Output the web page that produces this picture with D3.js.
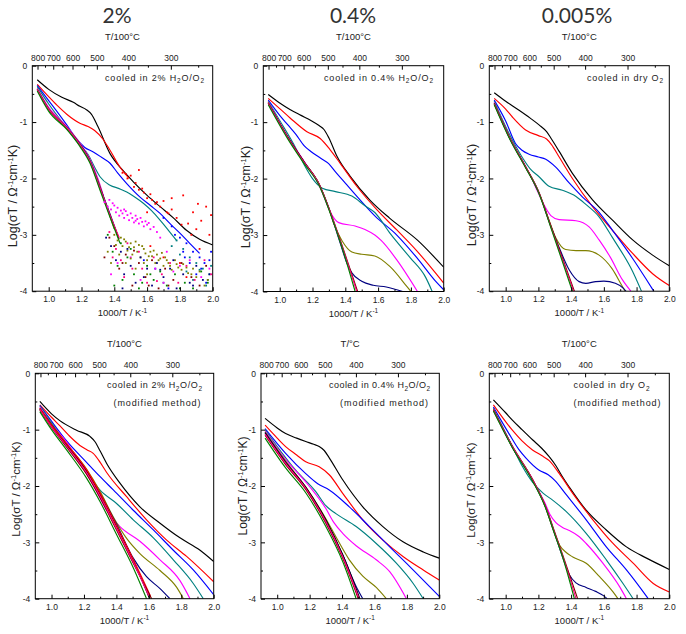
<!DOCTYPE html>
<html><head><meta charset="utf-8">
<script src="https://cdn.jsdelivr.net/npm/d3@7"></script>
<style>body{margin:0;background:#fff;} svg{display:block;font-family:"Liberation Sans",Arial,sans-serif;}</style>
</head><body><svg id="c" width="686" height="634"></svg>
<script>
// ---------- axes / ticks ----------
const X_DOMAIN = [0.9, 2.0];
const Y_DOMAIN = [-4, 0];
const X_TICKS = [1.0, 1.2, 1.4, 1.6, 1.8, 2.0];
const X_MINOR = [1.1, 1.3, 1.5, 1.7, 1.9];
const Y_TICKS = [0, -1, -2, -3, -4];
const Y_MINOR = [-0.5, -1.5, -2.5, -3.5];
const TEMP_TICKS = [800, 700, 600, 500, 400, 300];
const TEMP_MINOR = [750, 650, 550, 450, 350, 250];
const TITLES = ["2%", "0.4%", "0.005%"];
const TOP_LABELS = ["T/100°C", "T/100°C", "T/100°C", "T/100°C", "T/°C", "T/100°C"];
const GAS = ["2% H|2|O/O|2", "0.4% H|2|O/O|2", "dry O|2", "2% H|2|O/O|2", "0.4% H|2|O/O|2", "dry O|2"];

// ---------- panel 1 : cooled in 2% H2O/O2 ----------
const p1_black = [[0.93,-0.25],[1.0,-0.42],[1.08,-0.56],[1.15,-0.65],[1.19,-0.72],[1.23,-0.78],[1.26,-0.86],[1.3,-1.08],[1.374,-1.56],[1.45,-1.85],[1.516,-2.06],[1.6,-2.3],[1.679,-2.5],[1.76,-2.7],[1.84,-2.92],[1.92,-3.08],[2.0,-3.18]];
const p1_red = [[0.93,-0.33],[1.0,-0.55],[1.05,-0.70],[1.11,-0.86],[1.19,-1.02],[1.24,-1.08],[1.28,-1.15],[1.33,-1.3],[1.374,-1.5],[1.43,-1.78],[1.49,-2.0]];
const p1_blue = [[0.93,-0.35],[1.0,-0.62],[1.06,-0.85],[1.11,-1.05],[1.17,-1.30],[1.22,-1.45],[1.272,-1.53],[1.32,-1.62],[1.374,-1.73],[1.42,-1.9],[1.476,-2.09],[1.557,-2.33],[1.62,-2.48],[1.679,-2.62],[1.74,-2.8],[1.80,-2.97],[1.86,-3.15],[1.92,-3.33]];
const p1_teal = [[0.93,-0.37],[1.0,-0.68],[1.1,-1.07],[1.18,-1.38],[1.241,-1.58],[1.28,-1.8],[1.313,-1.97],[1.374,-2.12],[1.43,-2.18],[1.476,-2.24],[1.52,-2.32],[1.577,-2.44],[1.63,-2.58],[1.679,-2.74],[1.73,-2.92],[1.78,-3.10]];
const p1_magenta = [[0.93,-0.40],[1.0,-0.74],[1.11,-1.08],[1.19,-1.37],[1.252,-1.66],[1.3,-2.0],[1.333,-2.3]];
const p1_olive = [[0.93,-0.41],[1.0,-0.76],[1.11,-1.09],[1.19,-1.38],[1.252,-1.68],[1.313,-2.14],[1.36,-2.55],[1.40,-2.9]];
const p1_navy = [[0.93,-0.42],[1.0,-0.77],[1.11,-1.1],[1.19,-1.39],[1.252,-1.69],[1.313,-2.16],[1.374,-2.63],[1.42,-3.0]];
const p1_wine = [[0.93,-0.43],[1.0,-0.78],[1.11,-1.11],[1.19,-1.41],[1.252,-1.71],[1.313,-2.18],[1.374,-2.66],[1.43,-3.08]];
const p1_pink = [[0.93,-0.42],[1.0,-0.77],[1.11,-1.1],[1.19,-1.4],[1.252,-1.7],[1.313,-2.17],[1.374,-2.65],[1.43,-3.05]];
const p1_green = [[0.93,-0.45],[1.0,-0.81],[1.11,-1.13],[1.19,-1.43],[1.252,-1.73],[1.313,-2.21],[1.374,-2.69],[1.435,-3.15]];
// scattered low-conductivity points of panel 1
const p1_redDots = [[1.45,-1.9],[1.48,-2.0],[1.5,-1.95],[1.52,-2.15],[1.55,-2.2],[1.58,-2.25],[1.6,-2.35],[1.62,-2.28],[1.65,-2.45],[1.68,-2.5],[1.7,-2.4],[1.72,-2.6],[1.75,-2.55],[1.78,-2.7],[1.82,-2.3],[1.85,-2.8],[1.88,-2.6],[1.9,-2.9],[1.93,-2.75],[1.96,-2.5],[1.98,-3.0],[1.6,-2.6],[1.7,-3.4],[1.8,-3.5],[1.92,-3.25],[1.55,-1.85],[1.75,-2.35],[1.99,-2.65],[1.47,-1.92],[1.53,-2.08],[1.57,-2.18],[1.63,-2.38],[1.66,-2.42],[1.73,-2.62],[1.81,-2.82],[1.87,-3.0],[1.91,-2.45],[1.62,-3.2],[1.84,-3.75]];
const p1_blueDots = [[1.7,-2.7],[1.75,-2.85],[1.8,-3.05],[1.84,-3.15],[1.88,-3.3],[1.92,-3.4],[1.95,-3.5],[1.98,-3.45],[1.86,-3.5],[1.9,-3.7],[1.82,-3.3],[1.96,-3.85],[1.65,-3.6],[1.73,-3.95],[1.77,-3.0],[1.83,-3.4],[1.93,-3.6],[1.58,-3.45],[1.99,-3.3]];
const p1_tealDots = [[1.78,-3.1],[1.82,-3.25],[1.86,-3.4],[1.9,-3.5],[1.94,-3.6],[1.98,-3.7],[1.88,-3.8],[1.96,-3.9],[1.84,-3.65],[1.99,-3.55],[1.7,-3.85],[1.8,-3.35],[1.92,-3.62],[1.75,-3.2],[1.97,-3.8]];
const p1_magentaDots = [[1.34,-2.42],[1.36,-2.5],[1.37,-2.38],[1.38,-2.55],[1.40,-2.48],[1.41,-2.6],[1.42,-2.52],[1.43,-2.66],[1.44,-2.57],[1.45,-2.62],[1.46,-2.7],[1.47,-2.58],[1.48,-2.65],[1.49,-2.74],[1.5,-2.62],[1.51,-2.7],[1.52,-2.78],[1.53,-2.66],[1.54,-2.72],[1.55,-2.8],[1.56,-2.7],[1.57,-2.77],[1.58,-2.85],[1.59,-2.76],[1.6,-2.82],[1.62,-2.9],[1.64,-2.86],[1.66,-2.95],[1.5,-3.4],[1.65,-3.6],[1.72,-3.3],[1.8,-3.55],[1.86,-3.45],[1.93,-3.75],[1.42,-3.5],[1.38,-3.7],[1.56,-3.8],[1.98,-3.6],[1.7,-3.85],[1.39,-2.44],[1.46,-2.55],[1.53,-2.75],[1.61,-2.79],[1.68,-3.05],[1.76,-3.65]];
const p1_oliveDots = [[1.4,-3.0],[1.42,-3.1],[1.44,-3.05],[1.45,-3.2],[1.47,-3.12],[1.48,-3.28],[1.5,-3.15],[1.51,-3.35],[1.52,-3.22],[1.54,-3.3],[1.55,-3.18],[1.56,-3.4],[1.58,-3.25],[1.59,-3.33],[1.6,-3.45],[1.62,-3.3],[1.63,-3.38],[1.65,-3.5],[1.66,-3.35],[1.68,-3.42],[1.7,-3.55],[1.71,-3.4],[1.73,-3.5],[1.75,-3.62],[1.77,-3.45],[1.79,-3.58],[1.82,-3.52],[1.85,-3.68],[1.88,-3.6],[1.9,-3.75],[1.47,-3.5],[1.53,-3.6],[1.6,-3.7],[1.43,-3.35],[1.36,-3.3],[1.38,-3.5],[1.95,-3.9],[1.41,-3.18],[1.46,-3.08],[1.49,-3.22],[1.53,-3.12],[1.57,-3.2],[1.61,-3.38],[1.64,-3.28],[1.67,-3.45],[1.69,-3.32],[1.72,-3.45],[1.74,-3.55],[1.78,-3.52],[1.81,-3.62],[1.84,-3.58],[1.87,-3.7],[1.92,-3.65],[1.97,-3.8],[1.5,-3.42],[1.58,-3.5]];
const p1_navyDots = [[1.38,-3.2],[1.41,-3.45],[1.44,-3.3],[1.46,-3.7],[1.5,-3.55],[1.53,-3.85],[1.56,-3.4],[1.6,-3.6],[1.63,-3.9],[1.66,-3.5],[1.7,-3.75],[1.74,-3.6],[1.78,-3.95],[1.82,-3.7],[1.86,-3.85],[1.9,-3.55],[1.94,-3.8],[1.98,-3.7],[1.45,-3.95],[1.35,-3.05],[1.48,-3.25],[1.58,-3.75],[1.68,-3.62],[1.76,-3.45],[1.88,-3.9]];
const p1_wineDots = [[1.37,-3.05],[1.4,-3.2],[1.43,-3.6],[1.47,-3.35],[1.51,-3.9],[1.55,-3.5],[1.59,-3.75],[1.63,-3.45],[1.67,-3.95],[1.71,-3.6],[1.76,-3.8],[1.81,-3.5],[1.87,-3.75],[1.92,-3.9],[1.96,-3.55],[1.34,-3.4],[1.45,-3.5],[1.52,-3.28],[1.61,-3.9],[1.73,-3.9]];
const p1_pinkDots = [[1.37,-2.95],[1.41,-3.25],[1.44,-3.45],[1.48,-3.15],[1.51,-3.6],[1.55,-3.3],[1.6,-3.85],[1.64,-3.4],[1.69,-3.7],[1.74,-3.5],[1.79,-3.85],[1.84,-3.55],[1.89,-3.8],[1.95,-3.45],[1.99,-3.7],[1.39,-3.4],[1.46,-3.75],[1.57,-3.6],[1.66,-3.82]];
const p1_greenDots = [[1.36,-3.0],[1.39,-3.3],[1.42,-3.55],[1.45,-3.8],[1.48,-3.4],[1.52,-3.7],[1.55,-3.95],[1.6,-3.55],[1.64,-3.8],[1.68,-3.65],[1.72,-3.9],[1.77,-3.7],[1.83,-3.85],[1.88,-3.95],[1.93,-3.65],[1.97,-3.85],[1.4,-3.9],[1.5,-3.25],[1.44,-3.15],[1.57,-3.85],[1.62,-3.7],[1.8,-3.95]];

// ---------- panel 2 : cooled in 0.4% H2O/O2 ----------
const p2_black = [[0.93,-0.51],[1.0,-0.66],[1.065,-0.78],[1.13,-0.88],[1.19,-0.97],[1.24,-1.06],[1.27,-1.13],[1.3,-1.28],[1.35,-1.61],[1.43,-1.96],[1.55,-2.38],[1.67,-2.70],[1.84,-3.09],[2.0,-3.57]];
const p2_red = [[0.93,-0.58],[1.0,-0.76],[1.065,-0.93],[1.166,-1.17],[1.247,-1.29],[1.308,-1.49],[1.369,-1.73],[1.471,-2.14],[1.592,-2.55],[1.714,-2.91],[1.836,-3.28],[2.0,-3.85]];
const p2_blue = [[0.93,-0.61],[1.0,-0.88],[1.05,-1.05],[1.1,-1.22],[1.15,-1.42],[1.19,-1.52],[1.25,-1.64],[1.3,-1.74],[1.34,-1.88],[1.4,-2.08],[1.46,-2.28],[1.58,-2.66],[1.714,-3.0],[1.836,-3.4],[1.957,-3.84],[2.0,-3.97]];
const p2_teal = [[0.93,-0.63],[1.0,-0.97],[1.1,-1.47],[1.15,-1.76],[1.2,-2.0],[1.26,-2.17],[1.34,-2.23],[1.44,-2.31],[1.52,-2.48],[1.58,-2.6],[1.673,-2.97],[1.795,-3.4],[1.89,-3.75],[1.93,-4.0]];
const p2_magenta = [[0.93,-0.64],[1.05,-1.26],[1.15,-1.7],[1.24,-2.12],[1.26,-2.25],[1.31,-2.6],[1.36,-2.78],[1.46,-2.84],[1.52,-2.9],[1.58,-3.0],[1.62,-3.1],[1.714,-3.44],[1.84,-4.0]];
const p2_olive = [[0.93,-0.65],[1.05,-1.27],[1.15,-1.71],[1.24,-2.1],[1.3,-2.53],[1.33,-2.8],[1.38,-3.1],[1.44,-3.3],[1.5,-3.34],[1.58,-3.37],[1.673,-3.56],[1.775,-3.91],[1.80,-4.0]];
const p2_navy = [[0.93,-0.66],[1.05,-1.27],[1.15,-1.71],[1.24,-2.1],[1.3,-2.53],[1.37,-3.15],[1.41,-3.5],[1.44,-3.67],[1.5,-3.82],[1.57,-3.89],[1.65,-3.92],[1.714,-3.97],[1.75,-4.0]];
const p2_wine = [[0.93,-0.66],[1.05,-1.27],[1.15,-1.71],[1.24,-2.09],[1.3,-2.52],[1.38,-3.18],[1.475,-4.0]];
const p2_pink = [[0.93,-0.67],[1.05,-1.28],[1.15,-1.72],[1.24,-2.1],[1.3,-2.53],[1.38,-3.2],[1.47,-4.0]];
const p2_green = [[0.93,-0.69],[1.05,-1.30],[1.15,-1.74],[1.24,-2.12],[1.3,-2.55],[1.38,-3.22],[1.46,-4.0]];

// ---------- panel 3 : cooled in dry O2 ----------
const p3_black = [[0.93,-0.48],[1.0,-0.63],[1.082,-0.79],[1.15,-0.93],[1.204,-1.05],[1.25,-1.17],[1.28,-1.3],[1.327,-1.52],[1.408,-1.91],[1.531,-2.38],[1.653,-2.74],[1.776,-3.09],[1.898,-3.36],[2.0,-3.55]];
const p3_red = [[0.93,-0.58],[1.0,-0.77],[1.041,-0.91],[1.122,-1.14],[1.2,-1.24],[1.25,-1.3],[1.28,-1.4],[1.327,-1.62],[1.408,-2.0],[1.531,-2.5],[1.653,-2.92],[1.776,-3.33],[1.898,-3.69],[2.0,-3.9]];
const p3_blue = [[0.93,-0.61],[1.0,-0.98],[1.06,-1.38],[1.1,-1.5],[1.143,-1.57],[1.2,-1.62],[1.245,-1.66],[1.306,-1.80],[1.388,-2.08],[1.47,-2.33],[1.571,-2.6],[1.653,-2.92],[1.776,-3.42],[1.857,-3.78],[1.905,-4.0]];
const p3_teal = [[0.93,-0.63],[1.02,-1.2],[1.1,-1.62],[1.15,-1.83],[1.204,-1.97],[1.265,-2.14],[1.347,-2.21],[1.43,-2.32],[1.49,-2.46],[1.571,-2.68],[1.653,-3.05],[1.776,-3.65],[1.83,-4.0]];
const p3_magenta = [[0.93,-0.65],[1.03,-1.3],[1.12,-1.78],[1.16,-2.0],[1.19,-2.2],[1.24,-2.5],[1.276,-2.66],[1.326,-2.73],[1.43,-2.75],[1.51,-2.86],[1.571,-3.09],[1.64,-3.4],[1.714,-3.8],[1.765,-4.0]];
const p3_olive = [[0.93,-0.66],[1.03,-1.31],[1.12,-1.79],[1.204,-2.26],[1.255,-2.66],[1.306,-3.05],[1.367,-3.26],[1.43,-3.28],[1.49,-3.28],[1.571,-3.36],[1.65,-3.6],[1.71,-3.9],[1.73,-4.0]];
const p3_navy = [[0.93,-0.67],[1.03,-1.32],[1.12,-1.79],[1.204,-2.26],[1.276,-2.85],[1.326,-3.22],[1.388,-3.62],[1.449,-3.83],[1.49,-3.86],[1.55,-3.83],[1.6,-3.82],[1.67,-3.86],[1.72,-3.95],[1.735,-4.0]];
const p3_wine = [[0.93,-0.67],[1.03,-1.31],[1.12,-1.78],[1.204,-2.25],[1.276,-2.84],[1.42,-4.0]];
const p3_pink = [[0.93,-0.68],[1.03,-1.32],[1.12,-1.79],[1.204,-2.26],[1.276,-2.86],[1.415,-4.0]];
const p3_green = [[0.93,-0.69],[1.03,-1.33],[1.12,-1.8],[1.204,-2.27],[1.276,-2.87],[1.408,-4.0]];

// ---------- panel 4 : 2% H2O/O2, modified method ----------
const p4_black = [[0.928,-0.50],[1.0,-0.72],[1.051,-0.84],[1.154,-1.01],[1.237,-1.12],[1.267,-1.21],[1.3,-1.38],[1.34,-1.6],[1.422,-1.95],[1.545,-2.37],[1.669,-2.66],[1.792,-2.92],[1.916,-3.14],[2.0,-3.34]];
const p4_red = [[0.928,-0.56],[1.0,-0.78],[1.051,-0.93],[1.12,-1.14],[1.175,-1.28],[1.22,-1.36],[1.257,-1.42],[1.3,-1.58],[1.34,-1.76],[1.463,-2.19],[1.586,-2.6],[1.71,-2.96],[1.833,-3.25],[2.0,-3.70]];
const p4_blue = [[0.928,-0.57],[1.0,-0.85],[1.093,-1.2],[1.216,-1.58],[1.298,-1.83],[1.381,-2.07],[1.504,-2.43],[1.628,-2.78],[1.751,-3.14],[1.874,-3.49],[2.0,-3.93]];
const p4_teal = [[0.928,-0.58],[1.0,-0.88],[1.134,-1.42],[1.216,-1.75],[1.298,-2.07],[1.401,-2.31],[1.504,-2.6],[1.628,-2.92],[1.751,-3.31],[1.874,-3.73],[1.936,-4.0]];
const p4_magenta = [[0.928,-0.6],[1.0,-0.9],[1.093,-1.22],[1.175,-1.58],[1.257,-1.98],[1.34,-2.43],[1.422,-2.72],[1.545,-2.98],[1.669,-3.31],[1.792,-3.68],[1.854,-4.0]];
const p4_olive = [[0.928,-0.62],[1.093,-1.25],[1.216,-1.7],[1.3,-2.1],[1.381,-2.55],[1.463,-2.93],[1.545,-3.2],[1.669,-3.5],[1.772,-3.8],[1.813,-4.0]];
const p4_navy = [[0.928,-0.63],[1.093,-1.27],[1.216,-1.73],[1.298,-2.13],[1.401,-2.68],[1.504,-3.28],[1.586,-3.61],[1.669,-3.82],[1.73,-4.0]];
const p4_black2 = [[0.928,-0.63],[1.0,-0.93],[1.093,-1.27],[1.216,-1.73],[1.298,-2.14],[1.401,-2.72],[1.504,-3.32],[1.605,-4.0]];
const p4_red2 = [[0.928,-0.62],[1.0,-0.92],[1.093,-1.25],[1.216,-1.71],[1.298,-2.12],[1.401,-2.7],[1.504,-3.3],[1.61,-3.95]];
const p4_wine = [[0.928,-0.65],[1.0,-0.96],[1.093,-1.31],[1.216,-1.79],[1.298,-2.2],[1.401,-2.78],[1.504,-3.37],[1.617,-4.0]];
const p4_pink = [[0.928,-0.64],[1.0,-0.95],[1.093,-1.29],[1.216,-1.76],[1.298,-2.17],[1.401,-2.75],[1.504,-3.35],[1.6,-3.95]];
const p4_green = [[0.928,-0.68],[1.0,-1.0],[1.093,-1.36],[1.216,-1.86],[1.298,-2.27],[1.401,-2.86],[1.504,-3.45],[1.586,-4.0]];

// ---------- panel 5 : 0.4% H2O/O2, modified method ----------
const p5_black = [[0.925,-0.80],[1.0,-0.97],[1.052,-1.07],[1.12,-1.15],[1.176,-1.21],[1.225,-1.26],[1.259,-1.30],[1.29,-1.37],[1.321,-1.50],[1.404,-1.89],[1.528,-2.37],[1.652,-2.72],[1.776,-2.99],[1.901,-3.17],[2.0,-3.28]];
const p5_red = [[0.925,-0.92],[1.0,-1.15],[1.052,-1.30],[1.12,-1.45],[1.176,-1.57],[1.259,-1.66],[1.321,-1.80],[1.404,-2.13],[1.528,-2.60],[1.652,-2.96],[1.776,-3.25],[1.901,-3.49],[2.0,-3.67]];
const p5_blue = [[0.925,-0.98],[1.052,-1.42],[1.176,-1.78],[1.25,-1.96],[1.321,-2.07],[1.445,-2.37],[1.569,-2.72],[1.694,-3.08],[1.818,-3.43],[1.942,-3.79],[2.0,-3.96]];
const p5_teal = [[0.925,-1.0],[1.0,-1.3],[1.114,-1.72],[1.238,-2.1],[1.3,-2.35],[1.362,-2.49],[1.487,-2.72],[1.611,-3.02],[1.735,-3.37],[1.839,-3.73],[1.901,-4.0]];
const p5_magenta = [[0.925,-1.02],[1.05,-1.52],[1.197,-2.0],[1.3,-2.4],[1.35,-2.65],[1.404,-2.84],[1.487,-3.06],[1.611,-3.31],[1.694,-3.52],[1.797,-4.0]];
const p5_olive = [[0.925,-1.04],[1.05,-1.55],[1.176,-2.02],[1.3,-2.58],[1.362,-2.9],[1.445,-3.31],[1.528,-3.6],[1.611,-3.8],[1.673,-4.0]];
const p5_navy = [[0.925,-1.05],[1.05,-1.57],[1.176,-2.04],[1.3,-2.62],[1.404,-3.22],[1.49,-3.8],[1.528,-4.0]];
const p5_black2 = [[0.925,-1.06],[1.052,-1.58],[1.176,-2.02],[1.3,-2.6],[1.404,-3.22],[1.51,-4.0]];
const p5_wine = [[0.925,-1.1],[1.052,-1.62],[1.176,-2.06],[1.3,-2.66],[1.404,-3.28],[1.5,-4.0]];
const p5_pink = [[0.925,-1.08],[1.052,-1.6],[1.176,-2.04],[1.3,-2.63],[1.404,-3.25],[1.505,-4.0]];
const p5_green = [[0.925,-1.15],[1.052,-1.68],[1.176,-2.12],[1.3,-2.72],[1.404,-3.34],[1.487,-4.0]];

// ---------- panel 6 : dry O2, modified method ----------
const p6_black = [[0.925,-0.47],[1.0,-0.7],[1.041,-0.83],[1.1,-1.0],[1.164,-1.18],[1.22,-1.33],[1.266,-1.48],[1.307,-1.64],[1.35,-1.85],[1.389,-2.02],[1.492,-2.43],[1.615,-2.78],[1.738,-3.08],[1.861,-3.28],[2.0,-3.48]];
const p6_red = [[0.925,-0.56],[1.041,-1.01],[1.1,-1.2],[1.164,-1.36],[1.22,-1.46],[1.266,-1.55],[1.328,-1.78],[1.41,-2.13],[1.533,-2.6],[1.656,-3.02],[1.779,-3.37],[1.902,-3.73],[2.0,-3.88]];
const p6_blue = [[0.925,-0.60],[1.02,-1.07],[1.08,-1.35],[1.123,-1.5],[1.205,-1.72],[1.26,-1.8],[1.3,-1.9],[1.369,-2.15],[1.492,-2.6],[1.615,-3.08],[1.738,-3.49],[1.861,-3.96],[1.871,-4.0]];
const p6_teal = [[0.925,-0.62],[1.041,-1.3],[1.1,-1.64],[1.164,-1.93],[1.23,-2.13],[1.287,-2.25],[1.369,-2.45],[1.492,-2.84],[1.615,-3.31],[1.717,-3.73],[1.779,-4.0]];
const p6_magenta = [[0.925,-0.63],[1.041,-1.31],[1.164,-1.88],[1.2,-2.08],[1.24,-2.3],[1.27,-2.5],[1.307,-2.65],[1.35,-2.74],[1.389,-2.79],[1.45,-2.9],[1.492,-3.02],[1.594,-3.37],[1.697,-3.79],[1.738,-4.0]];
const p6_olive = [[0.925,-0.64],[1.041,-1.31],[1.164,-1.89],[1.24,-2.35],[1.3,-2.85],[1.33,-3.05],[1.37,-3.18],[1.41,-3.26],[1.492,-3.37],[1.574,-3.61],[1.656,-3.88],[1.686,-4.0]];
const p6_navy = [[0.925,-0.65],[1.041,-1.31],[1.164,-1.9],[1.24,-2.35],[1.3,-2.85],[1.35,-3.28],[1.39,-3.58],[1.43,-3.72],[1.492,-3.8],[1.55,-3.87],[1.6,-3.95],[1.62,-4.0]];
const p6_wine = [[0.925,-0.65],[1.041,-1.29],[1.164,-1.88],[1.24,-2.33],[1.3,-2.82],[1.348,-3.22],[1.44,-4.0]];
const p6_pink = [[0.925,-0.66],[1.041,-1.3],[1.164,-1.89],[1.24,-2.34],[1.3,-2.84],[1.348,-3.24],[1.43,-4.0]];
const p6_green = [[0.925,-0.67],[1.041,-1.32],[1.164,-1.91],[1.24,-2.36],[1.3,-2.86],[1.348,-3.26],[1.42,-4.0]];

// ---------- styles & layout ----------
const COLORS = {black:"#000000", red:"#ff0000", blue:"#0000ff", teal:"#008080", magenta:"#ff00ff",
  olive:"#808000", navy:"#000080", wine:"#800000", pink:"#ff0080", green:"#008000"};

const PANELS = [
  {id:1, left:32.3, right:212.7, top:65.7, bottom:291.2, title:0, titleX:117, ylx:16.5, yly:196, yfs:12.5,
   series:[["black",p1_black],["red",p1_red],["blue",p1_blue],["teal",p1_teal],["magenta",p1_magenta],["olive",p1_olive],["navy",p1_navy],["wine",p1_wine],["pink",p1_pink],["green",p1_green]],
   dots:[["red",p1_redDots],["blue",p1_blueDots],["teal",p1_tealDots],["magenta",p1_magentaDots],["olive",p1_oliveDots],["navy",p1_navyDots],["wine",p1_wineDots],["pink",p1_pinkDots],["green",p1_greenDots]],
   ann:[{x:105,y:80.5,len:99}]},
  {id:2, left:263.3, right:443.7, top:65.7, bottom:291.5, title:1, titleX:353, ylx:249.5, yly:197, yfs:12.5,
   series:[["black",p2_black],["red",p2_red],["blue",p2_blue],["teal",p2_teal],["magenta",p2_magenta],["olive",p2_olive],["navy",p2_navy],["wine",p2_wine],["pink",p2_pink],["green",p2_green]],
   ann:[{x:324,y:80.5,len:109}]},
  {id:3, left:489.3, right:669.3, top:65.7, bottom:291.2, title:2, titleX:577, ylx:476, yly:195, yfs:12.5,
   series:[["black",p3_black],["red",p3_red],["blue",p3_blue],["teal",p3_teal],["magenta",p3_magenta],["olive",p3_olive],["navy",p3_navy],["wine",p3_wine],["pink",p3_pink],["green",p3_green]],
   ann:[{x:587,y:80.5,len:76}]},
  {id:4, left:35.3, right:213.7, top:373.3, bottom:598.7, ylx:20, yly:489, yfs:11.5,
   series:[["black",p4_black],["red",p4_red],["blue",p4_blue],["teal",p4_teal],["magenta",p4_magenta],["olive",p4_olive],["navy",p4_navy],["black",p4_black2],["red",p4_red2],["wine",p4_wine],["pink",p4_pink],["green",p4_green]],
   ann:[{x:107,y:388,len:95},{x:113.5,y:406,len:87}]},
  {id:5, left:261, right:439.3, top:373.3, bottom:598.7, ylx:246.5, yly:486, yfs:12,
   series:[["black",p5_black],["red",p5_red],["blue",p5_blue],["teal",p5_teal],["magenta",p5_magenta],["olive",p5_olive],["navy",p5_navy],["black",p5_black2],["wine",p5_wine],["pink",p5_pink],["green",p5_green]],
   ann:[{x:329,y:388,len:101},{x:340,y:406,len:88}]},
  {id:6, left:489.3, right:669.3, top:373.3, bottom:598.7, ylx:474.5, yly:490, yfs:11.5,
   series:[["black",p6_black],["red",p6_red],["blue",p6_blue],["teal",p6_teal],["magenta",p6_magenta],["olive",p6_olive],["navy",p6_navy],["wine",p6_wine],["pink",p6_pink],["green",p6_green]],
   ann:[{x:573.5,y:388,len:76},{x:573.5,y:406,len:87}]}
];

const svg = d3.select("#c");
const defs = svg.append("defs");

function addSubText(sel, spec) {
  // spec like "2% H|2|O/O|2": odd pieces are subscripts
  spec.split("|").forEach((s, i) => {
    if (i % 2 === 1) sel.append("tspan").attr("dy", 2.5).attr("font-size", "6.5px").text(s);
    else {
      const t = sel.append("tspan").text(s);
      if (i > 0) t.attr("dy", -2.5);
    }
  });
}

PANELS.forEach((P, idx) => {
  const g = svg.append("g");
  const x = d3.scaleLinear().domain(X_DOMAIN).range([P.left, P.right]);
  const y = d3.scaleLinear().domain(Y_DOMAIN).range([P.bottom, P.top]);
  const cid = "clip" + P.id;
  defs.append("clipPath").attr("id", cid).append("rect")
    .attr("x", P.left).attr("y", P.top).attr("width", P.right - P.left).attr("height", P.bottom - P.top);
  const plot = g.append("g").attr("clip-path", `url(#${cid})`);
  const line = d3.line().x(d => x(d[0])).y(d => y(d[1])).curve(d3.curveMonotoneX);
  P.series.forEach(([c, d]) => {
    plot.append("path").attr("d", line(d)).attr("fill", "none")
      .attr("stroke", COLORS[c]).attr("stroke-width", 1.15).attr("stroke-linejoin", "round");
  });
  (P.dots || []).forEach(([c, d]) => {
    plot.append("g").selectAll("rect").data(d).enter().append("rect")
      .attr("x", p => x(p[0]) - 0.9).attr("y", p => y(p[1]) - 0.9)
      .attr("width", 1.8).attr("height", 1.8).attr("fill", COLORS[c]);
  });

  // axes (ticks inward)
  const fnt = g => g.selectAll("text").attr("font-size", "8.5px").attr("font-family", '"Liberation Sans",Arial,sans-serif').attr("fill", "#222");
  const bx = g.append("g").attr("transform", `translate(0,${P.bottom})`)
    .call(d3.axisBottom(x).tickValues(X_TICKS).tickFormat(d => d.toFixed(1)).tickSizeInner(-4).tickSizeOuter(0).tickPadding(5));
  bx.call(fnt); bx.select(".domain").remove();
  const bxm = g.append("g").attr("transform", `translate(0,${P.bottom})`)
    .call(d3.axisBottom(x).tickValues(X_MINOR).tickFormat("").tickSizeInner(-2).tickSizeOuter(0));
  bxm.select(".domain").remove();
  const ly = g.append("g").attr("transform", `translate(${P.left},0)`)
    .call(d3.axisLeft(y).tickValues(Y_TICKS).tickFormat(d => String(d)).tickSizeInner(-4).tickSizeOuter(0).tickPadding(5));
  ly.call(fnt); ly.select(".domain").remove();
  const lym = g.append("g").attr("transform", `translate(${P.left},0)`)
    .call(d3.axisLeft(y).tickValues(Y_MINOR).tickFormat("").tickSizeInner(-2).tickSizeOuter(0));
  lym.select(".domain").remove();
  const tx = g.append("g").attr("transform", `translate(0,${P.top})`)
    .call(d3.axisTop(x).tickValues(TEMP_TICKS.map(t => 1000 / (t + 273.15)))
      .tickFormat(v => String(Math.round(1000 / v - 273.15))).tickSizeInner(-4).tickSizeOuter(0).tickPadding(5));
  tx.call(fnt); tx.select(".domain").remove();
  const txm = g.append("g").attr("transform", `translate(0,${P.top})`)
    .call(d3.axisTop(x).tickValues(TEMP_MINOR.map(t => 1000 / (t + 273.15))).tickFormat("").tickSizeInner(-2).tickSizeOuter(0));
  txm.select(".domain").remove();

  g.append("rect").attr("x", P.left).attr("y", P.top).attr("width", P.right - P.left).attr("height", P.bottom - P.top)
    .attr("fill", "none").attr("stroke", "#000").attr("stroke-width", 1);

  const cx = (P.left + P.right) / 2;
  // top label
  g.append("text").attr("x", cx).attr("y", P.top - 26).attr("text-anchor", "middle")
    .attr("font-size", "9.5px").attr("fill", "#222").text(TOP_LABELS[idx]);
  // x label
  const xl = g.append("text").attr("x", cx).attr("y", P.bottom + 25).attr("text-anchor", "middle")
    .attr("font-size", "9.5px").attr("fill", "#222");
  xl.append("tspan").text("1000/T  / K");
  xl.append("tspan").attr("dy", -3.5).attr("font-size", "6.5px").text("-1");
  // y label
  const yl = g.append("text").attr("transform", `translate(${P.ylx},${P.yly}) rotate(-90)`)
    .attr("text-anchor", "middle").attr("font-size", P.yfs + "px").attr("fill", "#222");
  yl.append("tspan").text("Log(σT / Ω");
  yl.append("tspan").attr("dy", -4).attr("font-size", "7.5px").text("-1");
  yl.append("tspan").attr("dy", 4).text("cm");
  yl.append("tspan").attr("dy", -4).attr("font-size", "7.5px").text("-1");
  yl.append("tspan").attr("dy", 4).text("K)");
  // annotation
  const a0 = P.ann[0];
  const t0 = g.append("text").attr("x", a0.x).attr("y", a0.y).attr("font-size", "9px").attr("fill", "#222")
    .attr("textLength", a0.len).attr("lengthAdjust", "spacing");
  t0.append("tspan").text("cooled in ");
  addSubText(t0, GAS[idx]);
  if (P.ann[1]) {
    const a1 = P.ann[1];
    g.append("text").attr("x", a1.x).attr("y", a1.y).attr("font-size", "9px").attr("fill", "#222")
      .attr("textLength", a1.len).attr("lengthAdjust", "spacing").text("(modified method)");
  }
  if (P.title !== undefined) {
    svg.append("text").attr("x", P.titleX).attr("y", 23).attr("text-anchor", "middle")
      .attr("font-family", 'Lato,"Noto Sans",sans-serif').attr("font-weight", 400).attr("font-size", "21px").attr("fill", "#333")
      .text(TITLES[P.title]);
  }
});
</script>
</body></html>
